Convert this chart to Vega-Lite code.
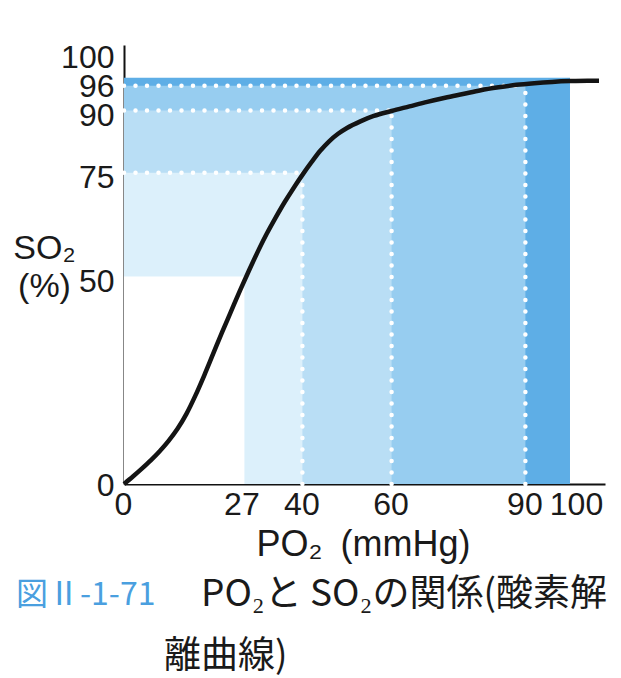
{
  "$schema": "https://vega.github.io/schema/vega-lite/v6.json",
  "width": 481,
  "height": 439,
  "autosize": {"type": "none"},
  "padding": {"left": 124, "top": 45, "right": 16, "bottom": 194},
  "background": "white",
  "config": {
    "view": {"stroke": null},
    "font": "Liberation Sans",
    "axis": {
      "grid": false,
      "ticks": false,
      "tickSize": 0,
      "domainColor": "#111111",
      "domainWidth": 2,
      "labelFont": "Liberation Sans",
      "labelFontSize": 32,
      "labelColor": "#1a1a1a",
      "labelOverlap": false,
      "labelBound": false,
      "labelFlush": false,
      "titleFont": "Liberation Sans",
      "titleFontWeight": "normal",
      "titleColor": "#1a1a1a",
      "zindex": 1
    }
  },
  "title": {
    "text": "図Ⅱ-1-71",
    "subtitle": ["\u200b\u3000\u3000\u3000\u3000\u3000PO₂と SO₂の関係(酸素解", "\u200b\u3000\u3000\u3000\u3000離曲線)"],
    "orient": "bottom",
    "anchor": "start",
    "frame": "group",
    "font": "Noto Sans CJK JP",
    "fontSize": 32,
    "fontWeight": "normal",
    "color": "#4a9fdf",
    "lineHeight": 32,
    "subtitleFont": "Noto Sans CJK JP",
    "subtitleFontSize": 37,
    "subtitleColor": "#1a1a1a",
    "subtitlePadding": -35,
    "subtitleLineHeight": 62,
    "dx": -108,
    "offset": 18
  },
  "layer": [
    {
      "data": {
        "values": [
          {"lvl": "r4", "x0": 0, "y0": 0, "x": 100, "y": 97.9},
          {"lvl": "r3", "x0": 0, "y0": 0, "x": 90, "y": 96},
          {"lvl": "r2", "x0": 0, "y0": 0, "x": 60, "y": 90},
          {"lvl": "r1", "x0": 0, "y0": 0, "x": 40, "y": 75},
          {"lvl": "r0", "x0": 0, "y0": 0, "x": 27, "y": 50}
        ]
      },
      "mark": {"type": "rect", "strokeWidth": 0},
      "encoding": {
        "x": {
          "field": "x0", "type": "quantitative",
          "scale": {"domain": [0, 107.85], "nice": false, "zero": false},
          "axis": {
            "title": "PO₂\u2002(mmHg)",
            "values": [0, 27, 40, 60, 90, 100],
            "labelPadding": 5,
            "labelOffset": {"condition": [{"test": "datum.value == 100", "value": 6}, {"test": "datum.value == 27", "value": -3}], "value": -1},
            "titleFontSize": 36,
            "titleBaseline": "alphabetic",
            "titleAlign": "center",
            "titleX": 239,
            "titleY": 71
          }
        },
        "x2": {"field": "x"},
        "y": {
          "field": "y0", "type": "quantitative",
          "scale": {"domain": [0, 105.8], "nice": false, "zero": false},
          "axis": {
            "title": ["SO₂", "(%)"],
            "values": [0, 50, 75, 90, 96, 100],
            "labelPadding": 10,
            "labelOffset": {"condition": [{"test": "datum.value == 100", "value": -12}, {"test": "datum.value >= 50 && datum.value <= 90", "value": 5}], "value": 1},
            "titleAngle": 0,
            "titleAlign": "center",
            "titleBaseline": "alphabetic",
            "titleFontSize": 34,
            "titleLineHeight": 38,
            "titleX": -80,
            "titleY": 213
          }
        },
        "y2": {"field": "y"},
        "color": {
          "field": "lvl", "type": "nominal",
          "scale": {"domain": ["r4", "r3", "r2", "r1", "r0"], "range": ["#5eaee6", "#97cdf0", "#b9def5", "#dcf0fb", "#ffffff"]},
          "legend": null
        }
      }
    },
    {
      "data": {
        "values": [
          {"x0": 0, "x": 40, "y": 75},
          {"x0": 0, "x": 60, "y": 90},
          {"x0": 0, "x": 90, "y": 96}
        ]
      },
      "mark": {"type": "rule", "color": "white", "strokeWidth": 4.5, "strokeDash": [0, 11.5], "strokeCap": "round"},
      "encoding": {
        "x": {"field": "x0", "type": "quantitative", "scale": {"domain": [0, 107.85], "nice": false, "zero": false}, "axis": {"title": "PO₂\u2002(mmHg)"}},
        "x2": {"field": "x"},
        "y": {"field": "y", "type": "quantitative", "scale": {"domain": [0, 105.8], "nice": false, "zero": false}, "axis": {"title": ["SO₂", "(%)"]}}
      }
    },
    {
      "data": {
        "values": [
          {"x": 40, "y0": 0, "y": 75},
          {"x": 60, "y0": 0, "y": 90},
          {"x": 90, "y0": 0, "y": 96}
        ]
      },
      "mark": {"type": "rule", "color": "white", "strokeWidth": 4.5, "strokeDash": [0, 11.5], "strokeCap": "round"},
      "encoding": {
        "x": {"field": "x", "type": "quantitative", "scale": {"domain": [0, 107.85], "nice": false, "zero": false}, "axis": {"title": "PO₂\u2002(mmHg)"}},
        "y": {"field": "y0", "type": "quantitative", "scale": {"domain": [0, 105.8], "nice": false, "zero": false}, "axis": {"title": ["SO₂", "(%)"]}},
        "y2": {"field": "y"}
      }
    },
    {
      "data": {
        "values": [
          {"x": 0, "y": 0}, {"x": 2, "y": 1.8}, {"x": 4, "y": 3.7}, {"x": 6, "y": 5.7},
          {"x": 8, "y": 7.9}, {"x": 10, "y": 10.4}, {"x": 12, "y": 13.3}, {"x": 14, "y": 16.9},
          {"x": 16, "y": 21.3}, {"x": 18, "y": 26.2}, {"x": 20, "y": 31.4}, {"x": 22, "y": 36.6},
          {"x": 24, "y": 41.6}, {"x": 26, "y": 46.6}, {"x": 28, "y": 51.4}, {"x": 30, "y": 56},
          {"x": 32, "y": 60.3}, {"x": 34, "y": 64.2}, {"x": 36, "y": 67.9}, {"x": 38, "y": 71.3},
          {"x": 40, "y": 74.5}, {"x": 42, "y": 77.5}, {"x": 44, "y": 80.3}, {"x": 46, "y": 82.6},
          {"x": 48, "y": 84.4}, {"x": 50, "y": 85.8}, {"x": 53, "y": 87.4}, {"x": 56, "y": 88.7},
          {"x": 60, "y": 89.9}, {"x": 64, "y": 91}, {"x": 68, "y": 92.1}, {"x": 72, "y": 93.1},
          {"x": 76, "y": 94}, {"x": 80, "y": 94.9}, {"x": 84, "y": 95.6}, {"x": 88, "y": 96.2},
          {"x": 92, "y": 96.6}, {"x": 96, "y": 96.9}, {"x": 100, "y": 97.1}, {"x": 104, "y": 97.2},
          {"x": 106.5, "y": 97.2}
        ]
      },
      "mark": {"type": "line", "color": "#141414", "strokeWidth": 4.5, "interpolate": "monotone", "strokeCap": "butt", "clip": false},
      "encoding": {
        "x": {"field": "x", "type": "quantitative", "scale": {"domain": [0, 107.85], "nice": false, "zero": false}, "axis": {"title": "PO₂\u2002(mmHg)"}},
        "y": {"field": "y", "type": "quantitative", "scale": {"domain": [0, 105.8], "nice": false, "zero": false}, "axis": {"title": ["SO₂", "(%)"]}}
      }
    }
  ]
}
